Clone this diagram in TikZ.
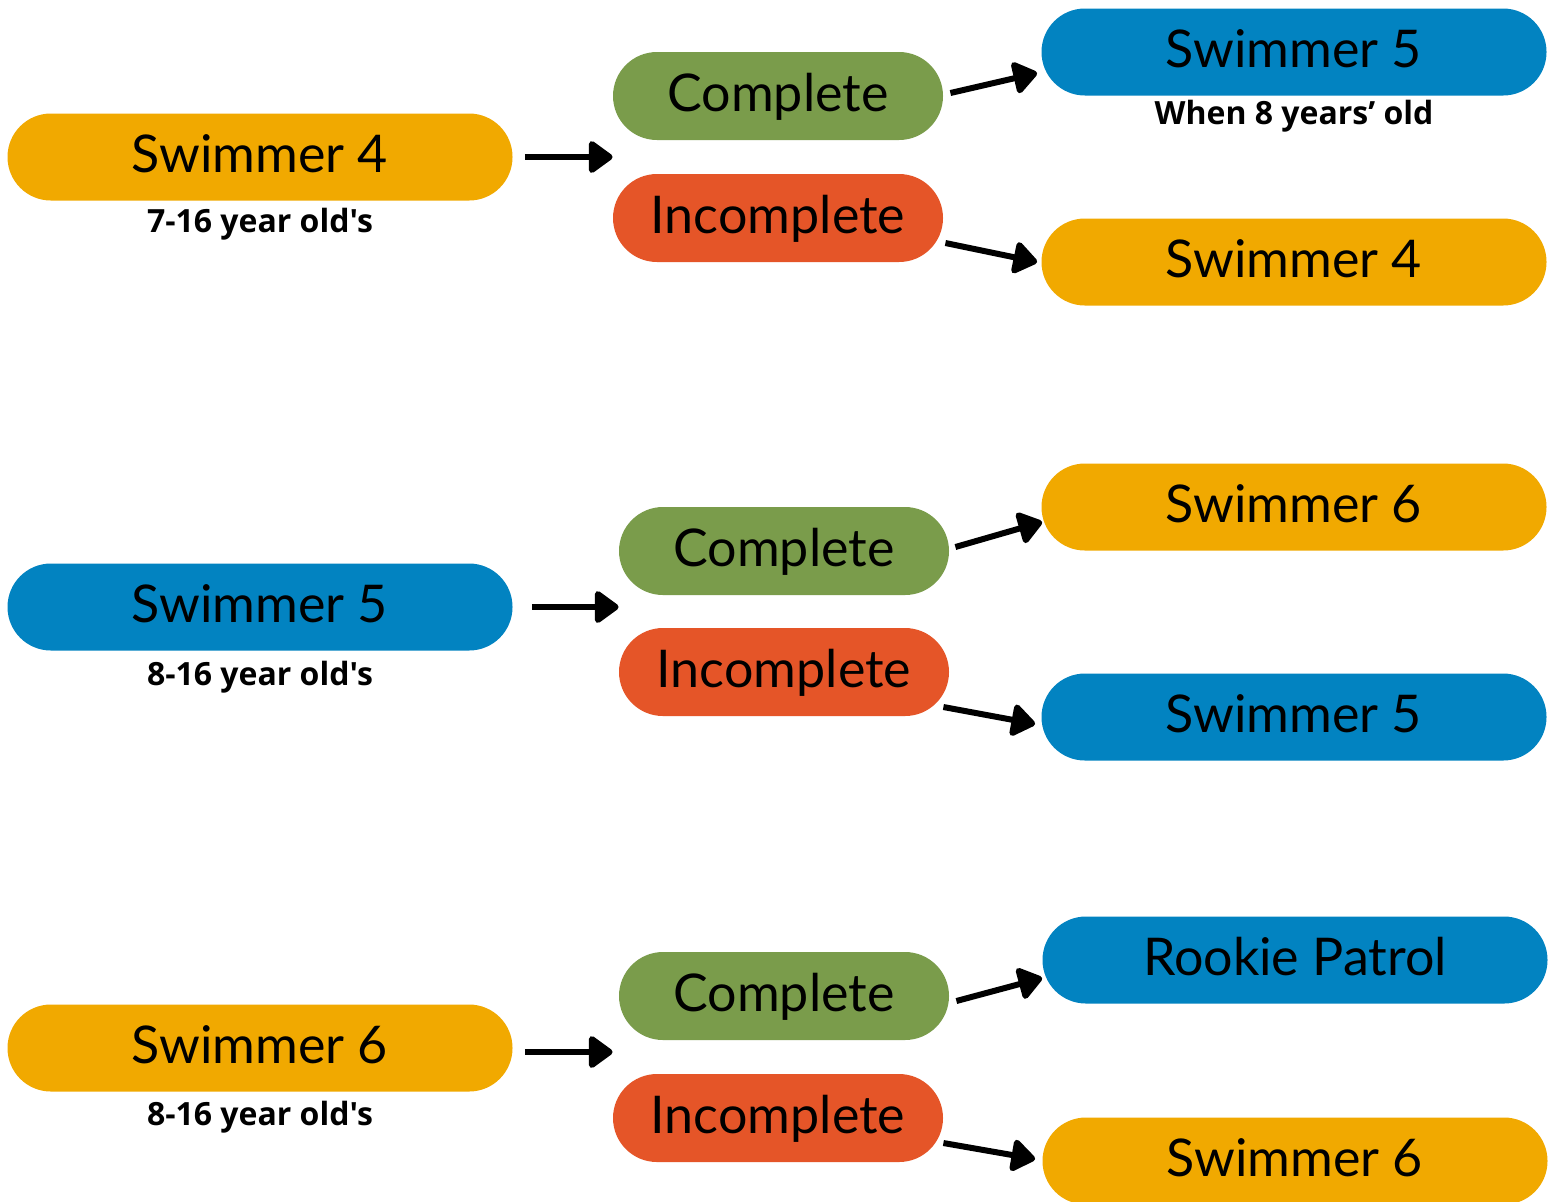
\documentclass[tikz,border=0pt]{standalone}
\usepackage{fontspec}
\setmainfont{Lato}
\newfontfamily\labfont{Open Sans}
\usetikzlibrary{arrows.meta,calc}
\definecolor{cyel}{HTML}{F1A900}
\definecolor{cgrn}{HTML}{7A9C4B}
\definecolor{cred}{HTML}{E55528}
\definecolor{cblu}{HTML}{0283C1}
\begin{document}
\begin{tikzpicture}[x=0.5pt,y=-0.5pt,
  big/.style={rectangle, rounded corners=21.7pt, minimum width=252.5pt, minimum height=43.5pt, inner sep=0pt, text height=18.5pt, text depth=3pt, font=\fontsize{26}{30}\selectfont},
  mid/.style={rectangle, rounded corners=22pt, minimum width=165pt, minimum height=44pt, inner sep=0pt, text height=18.5pt, text depth=3pt, font=\fontsize{26}{30}\selectfont},
  lab/.style={inner sep=0pt, font=\labfont\bfseries\fontsize{16}{19}\selectfont},
  arr/.style={line width=3pt, -{Triangle[length=13pt,width=18pt,round]}}]
\useasboundingbox (0,0) rectangle (1556,1201);
\fill[white] (0,0) rectangle (1556,1201);
% Row 1
\node[big, fill=cyel] (l1) at (260,157) {Swimmer 4};
\node[lab] (a1) at (260,224) {7-16 year old's};
\node[mid, fill=cgrn] (c1) at (778,96) {Complete};
\node[mid, fill=cred] (i1) at (778,218) {Incomplete};
\node[big, fill=cblu] (r1a) at (1294,52) {Swimmer 5};
\node[lab] (w1) at (1294,116) {When 8 years’ old};
\node[big, fill=cyel] (r1b) at (1294,262) {Swimmer 4};
\coordinate (s1) at ($(l1.east)+(12,0)$);
\draw[arr] (s1) -- (s1 -| c1.west);
\draw[arr] ($(c1.east)+(7,-3)$) -- ($(r1a.west)+(-4,21)$);
\draw[arr] ($(i1.east)+(2,25)$) -- ($(r1b.west)+(-4,0)$);
% Row 2
\node[big, fill=cblu] (l2) at (260,607) {Swimmer 5};
\node[lab] (a2) at (260,677) {8-16 year old's};
\node[mid, fill=cgrn] (c2) at (784,551) {Complete};
\node[mid, fill=cred] (i2) at (784,672) {Incomplete};
\node[big, fill=cyel] (r2a) at (1294,507) {Swimmer 6};
\node[big, fill=cblu] (r2b) at (1294,717) {Swimmer 5};
\coordinate (s2) at ($(l2.east)+(19,0)$);
\draw[arr] (s2) -- (s2 -| c2.west);
\draw[arr] ($(c2.east)+(6,-4)$) -- ($(r2a.west)+(1,15)$);
\draw[arr] ($(i2.east)+(-6,35)$) -- ($(r2b.west)+(-6,7)$);
% Row 3
\node[big, fill=cyel] (l3) at (260,1048) {Swimmer 6};
\node[lab] (a3) at (260,1117) {8-16 year old's};
\node[mid, fill=cgrn] (c3) at (784,996) {Complete};
\node[mid, fill=cred] (i3) at (778,1118) {Incomplete};
\node[big, fill=cblu] (r3a) at (1295,960) {Rookie Patrol};
\node[big, fill=cyel] (r3b) at (1295,1161) {Swimmer 6};
\coordinate (s3) at ($(l3.east)+(12,4)$);
\draw[arr] (s3) -- (s3 -| i3.west);
\draw[arr] ($(c3.east)+(7,5)$) -- ($(r3a.west)+(0,18)$);
\draw[arr] ($(i3.east)+(0,25)$) -- ($(r3b.west)+(-7,-2)$);
\end{tikzpicture}
\end{document}
